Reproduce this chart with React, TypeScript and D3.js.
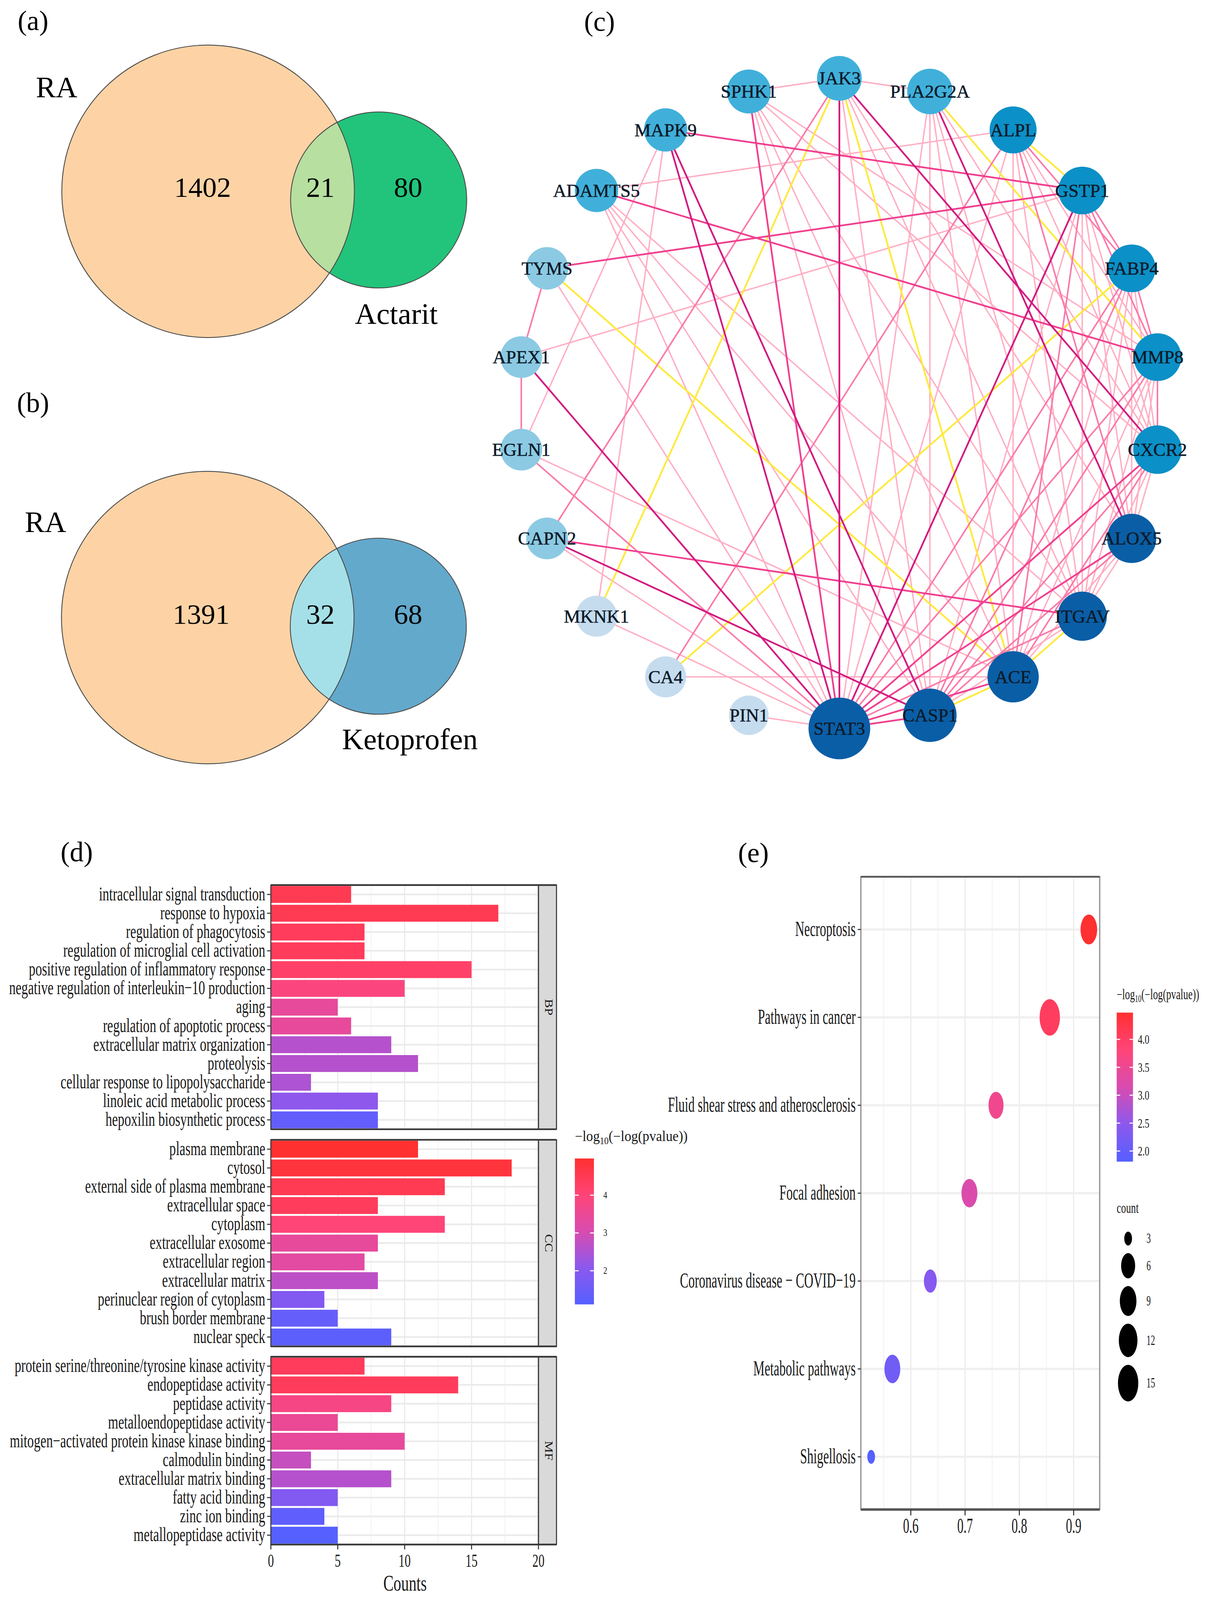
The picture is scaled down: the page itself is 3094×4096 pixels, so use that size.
import React from 'react';
import * as d3 from 'd3';

const REF_W = 3487;
const REF_H = 4617;
const SERIF = '"Liberation Serif", "Times New Roman", Times, serif';

// ---------------- (a)/(b) Venn data ----------------
const vennDrugs = ['Actarit', 'Ketoprofen'];
const vennRAOnly = [1402, 1391];
const vennShared = [21, 32];
const vennDrugOnly = [80, 68];
const vennDrugFill = ['#22c47b', '#63a9cc'];
const vennSharedFill = ['#b7dfa0', '#a5e0e8'];

// ---------------- (c) PPI network data ----------------
const geneNames = ['JAK3', 'PLA2G2A', 'ALPL', 'GSTP1', 'FABP4', 'MMP8', 'CXCR2', 'ALOX5', 'ITGAV', 'ACE', 'CASP1',
  'STAT3', 'PIN1', 'CA4', 'MKNK1', 'CAPN2', 'EGLN1', 'APEX1', 'TYMS', 'ADAMTS5', 'MAPK9', 'SPHK1'];
const geneDegree = [8, 9, 11, 12, 12, 12, 13, 14, 14, 15, 16, 20, 1, 3, 3, 4, 4, 4, 5, 6, 6, 7];
// edge strength class: L light, M medium, S strong, D dark, Y yellow
const ppiEdges: [string, string, string][] = [
  ['SPHK1', 'JAK3', 'L'], ['JAK3', 'PLA2G2A', 'L'], ['ALPL', 'GSTP1', 'Y'], ['GSTP1', 'FABP4', 'M'],
  ['FABP4', 'MMP8', 'M'], ['MMP8', 'CXCR2', 'M'], ['CXCR2', 'ALOX5', 'L'], ['ALOX5', 'ITGAV', 'L'],
  ['ITGAV', 'ACE', 'Y'], ['ACE', 'CASP1', 'Y'], ['CASP1', 'STAT3', 'S'], ['STAT3', 'PIN1', 'L'],
  ['TYMS', 'APEX1', 'M'], ['APEX1', 'EGLN1', 'M'],
  ['JAK3', 'STAT3', 'D'], ['JAK3', 'CXCR2', 'D'], ['JAK3', 'MKNK1', 'Y'], ['JAK3', 'ACE', 'Y'],
  ['JAK3', 'CAPN2', 'M'], ['JAK3', 'CASP1', 'L'], ['JAK3', 'ITGAV', 'L'], ['JAK3', 'ALOX5', 'L'],
  ['PLA2G2A', 'ALOX5', 'D'], ['PLA2G2A', 'MMP8', 'Y'], ['PLA2G2A', 'STAT3', 'L'], ['PLA2G2A', 'CASP1', 'L'],
  ['PLA2G2A', 'ACE', 'L'], ['PLA2G2A', 'ITGAV', 'L'], ['PLA2G2A', 'CXCR2', 'L'],
  ['ALPL', 'CA4', 'M'], ['ALPL', 'ADAMTS5', 'L'], ['ALPL', 'FABP4', 'M'], ['ALPL', 'MMP8', 'L'],
  ['ALPL', 'CXCR2', 'L'], ['ALPL', 'ALOX5', 'M'], ['ALPL', 'ITGAV', 'L'], ['ALPL', 'ACE', 'L'], ['ALPL', 'STAT3', 'L'],
  ['GSTP1', 'TYMS', 'S'], ['GSTP1', 'MAPK9', 'S'], ['GSTP1', 'APEX1', 'L'], ['GSTP1', 'STAT3', 'D'],
  ['GSTP1', 'CASP1', 'L'], ['GSTP1', 'ACE', 'M'], ['GSTP1', 'ITGAV', 'L'], ['GSTP1', 'ALOX5', 'L'],
  ['GSTP1', 'CXCR2', 'L'], ['GSTP1', 'MMP8', 'M'],
  ['FABP4', 'CA4', 'Y'], ['FABP4', 'STAT3', 'M'], ['FABP4', 'CASP1', 'M'], ['FABP4', 'ACE', 'L'],
  ['FABP4', 'ITGAV', 'L'], ['FABP4', 'ALOX5', 'L'], ['FABP4', 'CXCR2', 'L'],
  ['MMP8', 'ADAMTS5', 'S'], ['MMP8', 'STAT3', 'M'], ['MMP8', 'CASP1', 'M'], ['MMP8', 'ACE', 'L'],
  ['MMP8', 'ITGAV', 'L'], ['MMP8', 'ALOX5', 'L'],
  ['CXCR2', 'STAT3', 'S'], ['CXCR2', 'CASP1', 'M'], ['CXCR2', 'ACE', 'M'], ['CXCR2', 'ITGAV', 'L'],
  ['ALOX5', 'STAT3', 'S'], ['ALOX5', 'CASP1', 'M'], ['ALOX5', 'ACE', 'L'],
  ['ITGAV', 'CAPN2', 'S'], ['ITGAV', 'STAT3', 'M'], ['ITGAV', 'CASP1', 'L'],
  ['ACE', 'TYMS', 'Y'], ['ACE', 'CA4', 'L'], ['ACE', 'STAT3', 'S'], ['ACE', 'EGLN1', 'L'],
  ['CASP1', 'MAPK9', 'D'], ['CASP1', 'CAPN2', 'D'], ['CASP1', 'ADAMTS5', 'L'], ['CASP1', 'SPHK1', 'L'],
  ['STAT3', 'MAPK9', 'D'], ['STAT3', 'APEX1', 'D'], ['STAT3', 'SPHK1', 'S'], ['STAT3', 'TYMS', 'L'],
  ['STAT3', 'MKNK1', 'L'], ['STAT3', 'EGLN1', 'M'], ['STAT3', 'CAPN2', 'L'],
  ['SPHK1', 'ACE', 'L'], ['SPHK1', 'ITGAV', 'L'], ['SPHK1', 'CXCR2', 'L'], ['SPHK1', 'MMP8', 'L'],
  ['MAPK9', 'MKNK1', 'L'], ['MAPK9', 'EGLN1', 'L'],
  ['ADAMTS5', 'STAT3', 'L'], ['ADAMTS5', 'ACE', 'L'], ['ADAMTS5', 'ITGAV', 'L'],
];

// ---------------- (d) GO enrichment data ----------------
const bpTerms = ['intracellular signal transduction', 'response to hypoxia', 'regulation of phagocytosis',
  'regulation of microglial cell activation', 'positive regulation of inflammatory response',
  'negative regulation of interleukin\u221210 production', 'aging', 'regulation of apoptotic process',
  'extracellular matrix organization', 'proteolysis', 'cellular response to lipopolysaccharide',
  'linoleic acid metabolic process', 'hepoxilin biosynthetic process'];
const bpCounts = [6, 17, 7, 7, 15, 10, 5, 6, 9, 11, 3, 8, 8];
const bpScore = [4.5, 4.5, 4.4, 4.4, 4.2, 3.9, 3.4, 3.4, 2.6, 2.6, 2.5, 2.1, 1.35];

const ccTerms = ['plasma membrane', 'cytosol', 'external side of plasma membrane', 'extracellular space',
  'cytoplasm', 'extracellular exosome', 'extracellular region', 'extracellular matrix',
  'perinuclear region of cytoplasm', 'brush border membrane', 'nuclear speck'];
const ccCounts = [11, 18, 13, 8, 13, 8, 7, 8, 4, 5, 9];
const ccScore = [4.97, 4.8, 4.5, 4.4, 4.0, 3.4, 3.3, 2.7, 1.9, 1.4, 1.25];

const mfTerms = ['protein serine/threonine/tyrosine kinase activity', 'endopeptidase activity', 'peptidase activity',
  'metalloendopeptidase activity', 'mitogen\u2212activated protein kinase kinase binding', 'calmodulin binding',
  'extracellular matrix binding', 'fatty acid binding', 'zinc ion binding', 'metallopeptidase activity'];
const mfCounts = [7, 14, 9, 5, 10, 3, 9, 5, 4, 5];
const mfScore = [4.4, 4.4, 3.8, 3.5, 3.4, 2.8, 2.6, 1.9, 1.3, 1.11];

const countTicks = [0, 5, 10, 15, 20];
const goLegendTicks = [2, 3, 4];

// ---------------- (e) KEGG data ----------------
const keggTerms = ['Necroptosis', 'Pathways in cancer', 'Fluid shear stress and atherosclerosis', 'Focal adhesion',
  'Coronavirus disease \u2212 COVID\u221219', 'Metabolic pathways', 'Shigellosis'];
const keggRatio = [0.928, 0.856, 0.757, 0.708, 0.636, 0.566, 0.527];
const keggCount = [9, 15, 7, 8, 5, 8, 3];
const keggScore = [4.48, 4.05, 3.55, 3.2, 2.4, 2.15, 1.81];
const ratioTicks = [0.6, 0.7, 0.8, 0.9];
const keggLegendTicks = [2.0, 2.5, 3.0, 3.5, 4.0];
const sizeLegendCounts = [3, 6, 9, 12, 15];

// gradient palette (low -> high)
const gradientStops = ['#5560ff', '#8c58ee', '#d84cb0', '#ff4478', '#ff3030'];

type TP = { x: number; y: number; size: number; sx?: number; anchor?: string; fill?: string; rotate?: number; children: any };
function T({ x, y, size, sx = 1, anchor = 'start', fill = '#1a1a1a', rotate = 0, children }: TP) {
  return (
    <text transform={`translate(${x},${y}) rotate(${rotate}) scale(${sx},1)`} fontSize={size} textAnchor={anchor as any}
      fill={fill} fontFamily={SERIF}>
      {children}
    </text>
  );
}

function LogTitle({ x, y, size, sx }: { x: number; y: number; size: number; sx: number }) {
  return (
    <text transform={`translate(${x},${y}) scale(${sx},1)`} fontSize={size} fontFamily={SERIF} fill="#1a1a1a">
      {'\u2212log'}<tspan fontSize={size * 0.65} dy={size * 0.2}>10</tspan><tspan dy={-size * 0.2}>{'(\u2212log(pvalue))'}</tspan>
    </text>
  );
}

function Venn({ k }: { k: number }) {
  const oy = k * 1230;
  const ra = { cx: 600 - k, cy: 552 + oy, r: 422 };
  const dr = { cx: 1092 - k, cy: 577 + oy, r: 254 };
  const id = `clipRA${k}`;
  const raLabelX = [163, 131];
  const raLabelY = [252, 1506];
  const drugLabelX = [1143, 1182];
  const drugLabelY = [905, 2133];
  const numY = [540, 1772];
  return (
    <g>
      <defs>
        <clipPath id={id}><circle cx={ra.cx} cy={ra.cy} r={ra.r} /></clipPath>
      </defs>
      <circle cx={ra.cx} cy={ra.cy} r={ra.r} fill="#fdd3a5" />
      <circle cx={dr.cx} cy={dr.cy} r={dr.r} fill={vennDrugFill[k]} />
      <circle cx={dr.cx} cy={dr.cy} r={dr.r} fill={vennSharedFill[k]} clipPath={`url(#${id})`} />
      <circle cx={ra.cx} cy={ra.cy} r={ra.r} fill="none" stroke="#4a4a4a" strokeWidth={2.5} />
      <circle cx={dr.cx} cy={dr.cy} r={dr.r} fill="none" stroke="#4a4a4a" strokeWidth={2.5} />
      <T x={raLabelX[k]} y={raLabelY[k] + 29} size={86} anchor="middle" fill="#000">RA</T>
      <T x={584 - k * 4} y={numY[k] + 28} size={82} anchor="middle" fill="#000">{vennRAOnly[k]}</T>
      <T x={924} y={numY[k] + 28} size={82} anchor="middle" fill="#000">{vennShared[k]}</T>
      <T x={1177} y={numY[k] + 28} size={82} anchor="middle" fill="#000">{vennDrugOnly[k]}</T>
      <T x={drugLabelX[k]} y={drugLabelY[k] + 29} size={86} anchor="middle" fill="#000">{vennDrugs[k]}</T>
    </g>
  );
}

function Network() {
  const cx = 2421, cy = 1164, rx = 927, ry = 938;
  const n = geneNames.length;
  const angle = d3.scaleLinear().domain([0, n]).range([0, 2 * Math.PI]);
  const pos = new Map<string, [number, number]>(
    geneNames.map((g, i) => [g, [cx + rx * Math.sin(angle(i)), cy - ry * Math.cos(angle(i))]])
  );
  const color = d3.scaleThreshold<number, string>().domain([4, 6, 10, 14])
    .range(['#c5dcef', '#8ccae3', '#40b0da', '#0b90c7', '#0a5ea6']);
  const radius = d3.scaleLinear().domain([1, 14, 20]).range([57, 71, 89]);
  const edgeColor: Record<string, string> = { L: '#ffaec3', Y: '#ffe93b', M: '#fb7aa9', S: '#f0408f', D: '#d31a80' };
  const edgeWidth: Record<string, number> = { L: 4, Y: 5, M: 4.5, S: 5, D: 5 };
  const order: Record<string, number> = { L: 0, Y: 1, M: 2, S: 3, D: 4 };
  const edges = [...ppiEdges].sort((a, b) => order[a[2]] - order[b[2]]);
  const line = d3.line();
  return (
    <g>
      {edges.map(([a, b, t], i) => (
        <path key={i} d={line([pos.get(a)!, pos.get(b)!]) || ''} stroke={edgeColor[t]} strokeWidth={edgeWidth[t]}
          fill="none" />
      ))}
      {geneNames.map((g, i) => {
        const [x, y] = pos.get(g)!;
        return <circle key={g} cx={x} cy={y} r={radius(geneDegree[i])} fill={color(geneDegree[i])} />;
      })}
      {geneNames.map((g) => {
        const [x, y] = pos.get(g)!;
        return (
          <text key={g} x={x} y={y + 18} fontSize={53} textAnchor="middle" fill="#0d1b2a" fontFamily={SERIF}
            stroke="#0d1b2a" strokeWidth={0.8}>{g}</text>
        );
      })}
    </g>
  );
}

function colorScale(lo: number, hi: number) {
  const t = d3.scaleLinear().domain([lo, hi]).range([0, 1]).clamp(true);
  const pal = d3.scaleLinear<string>().domain(d3.range(gradientStops.length).map((i) => i / (gradientStops.length - 1)))
    .range(gradientStops).interpolate(d3.interpolateRgb);
  return (v: number) => pal(t(v));
}

function GoBars() {
  const x = d3.scaleLinear().domain([0, 20]).range([781, 1553]);
  const col = colorScale(1.11, 4.97);
  const rowH = 54.2;
  const facets = [
    { terms: bpTerms, counts: bpCounts, scores: bpScore, label: 'BP', top: 2554 },
    { terms: ccTerms, counts: ccCounts, scores: ccScore, label: 'CC', top: 3289 },
    { terms: mfTerms, counts: mfCounts, scores: mfScore, label: 'MF', top: 3915 },
  ];
  const majors = countTicks;
  const minors = d3.range(2.5, 20, 5);
  const sxLab = 0.665;
  const stripR = 1605;
  const lgTop = 3343, lgBot = 3764, lgL = 1658, lgR = 1713;
  const lgY = d3.scaleLinear().domain([1.11, 4.97]).range([lgBot, lgTop]);
  const stops = d3.range(0, 1.0001, 0.05);
  let lastBottom = 0;
  return (
    <g>
      <T x={221} y={2486} size={80} anchor="middle" fill="#000">(d)</T>
      {facets.map((f) => {
        const y = d3.scaleBand().domain(f.terms).range([f.top, f.top + f.terms.length * rowH]).paddingInner(0.1).paddingOuter(0.05);
        const bottom = f.top + f.terms.length * rowH;
        lastBottom = bottom;
        return (
          <g key={f.label}>
            <rect x={781} y={f.top} width={1553 - 781} height={bottom - f.top} fill="#fff" />
            {minors.map((v) => <line key={'mi' + v} x1={x(v)} x2={x(v)} y1={f.top} y2={bottom} stroke="#f2f2f2" strokeWidth={2.5} />)}
            {majors.map((v) => <line key={'ma' + v} x1={x(v)} x2={x(v)} y1={f.top} y2={bottom} stroke="#ebebeb" strokeWidth={3.5} />)}
            {f.terms.map((t) => <line key={'h' + t} x1={781} x2={1553} y1={y(t)! + y.bandwidth() / 2} y2={y(t)! + y.bandwidth() / 2} stroke="#ebebeb" strokeWidth={5} />)}
            {f.terms.map((t, i) => (
              <rect key={'b' + t} x={x(0)} y={y(t)} width={x(f.counts[i]) - x(0)} height={y.bandwidth()} fill={col(f.scores[i])} />
            ))}
            {f.terms.map((t) => <line key={'tk' + t} x1={770} x2={781} y1={y(t)! + y.bandwidth() / 2} y2={y(t)! + y.bandwidth() / 2} stroke="#333" strokeWidth={3} />)}
            {f.terms.map((t) => (
              <T key={'l' + t} x={765} y={y(t)! + y.bandwidth() / 2 + 17} size={57} sx={sxLab} anchor="end" fill="#1a1a1a">{t}</T>
            ))}
            <rect x={1553} y={f.top} width={stripR - 1553} height={bottom - f.top} fill="#d9d9d9" stroke="#333" strokeWidth={3} />
            <T x={1572} y={(f.top + bottom) / 2} size={34} sx={1.15} anchor="middle" rotate={90} fill="#1a1a1a">{f.label}</T>
            <rect x={781} y={f.top} width={1553 - 781} height={bottom - f.top} fill="none" stroke="#3a3a3a" strokeWidth={3} />
            <line x1={781} x2={stripR} y1={f.top} y2={f.top} stroke="#3a3a3a" strokeWidth={5} />
            <line x1={781} x2={stripR} y1={bottom} y2={bottom} stroke="#3a3a3a" strokeWidth={5} />
          </g>
        );
      })}
      {countTicks.map((v) => (
        <g key={'xt' + v}>
          <line x1={x(v)} x2={x(v)} y1={lastBottom} y2={lastBottom + 14} stroke="#333" strokeWidth={3} />
          <T x={x(v)} y={4521} size={52} sx={0.67} anchor="middle">{v}</T>
        </g>
      ))}
      <T x={1168} y={4590} size={65} sx={0.68} anchor="middle">Counts</T>
      <defs>
        <linearGradient id="goGrad" x1="0" y1="1" x2="0" y2="0">
          {stops.map((s) => <stop key={s} offset={s} stopColor={col(1.11 + s * (4.97 - 1.11))} />)}
        </linearGradient>
      </defs>
      <LogTitle x={lgL} y={3293} size={42} sx={0.93} />
      <rect x={lgL} y={lgTop} width={lgR - lgL} height={lgBot - lgTop} fill="url(#goGrad)" />
      {goLegendTicks.map((v) => (
        <g key={'gl' + v}>
          <line x1={lgL} x2={lgL + 11} y1={lgY(v)} y2={lgY(v)} stroke="#fff" strokeWidth={3} />
          <line x1={lgR - 11} x2={lgR} y1={lgY(v)} y2={lgY(v)} stroke="#fff" strokeWidth={3} />
          <T x={1740} y={lgY(v) + 9} size={28} sx={0.8}>{v}</T>
        </g>
      ))}
    </g>
  );
}

function KeggDots() {
  const L = 2483, R = 3172, top = 2530, bot = 4356;
  const x = d3.scaleLinear().domain([0.508, 0.948]).range([L, R]);
  const y = d3.scalePoint().domain(keggTerms).range([top, bot]).padding(0.6);
  const col = colorScale(1.81, 4.48);
  const t = d3.scaleLinear().domain([3, 15]).range([0, 1]).clamp(true);
  const rxOf = (c: number) => (22.3 + 36.4 * Math.sqrt(t(c))) / 2;
  const stretch = 1.8;
  const majors = ratioTicks;
  const minors = d3.range(0.55, 0.95, 0.1);
  const lgTop = 2922, lgBot = 3352, lgL = 3221, lgR = 3268;
  const lgY = d3.scaleLinear().domain([1.81, 4.48]).range([lgBot, lgTop]);
  const stops = d3.range(0, 1.0001, 0.05);
  const keyH = sizeLegendCounts.map((c) => rxOf(c) * 2 * stretch + 22);
  const keyY: number[] = [];
  let acc = 3574 - keyH[0] / 2;
  keyH.forEach((h) => { keyY.push(acc + h / 2); acc += h; });
  return (
    <g>
      <T x={2173} y={2488} size={80} anchor="middle" fill="#000">(e)</T>
      <rect x={L} y={top} width={R - L} height={bot - top} fill="#fff" />
      {minors.map((v) => <line key={'mi' + v} x1={x(v)} x2={x(v)} y1={top} y2={bot} stroke="#f4f4f4" strokeWidth={3} />)}
      {majors.map((v) => <line key={'ma' + v} x1={x(v)} x2={x(v)} y1={top} y2={bot} stroke="#ececec" strokeWidth={3.5} />)}
      {keggTerms.map((k) => <line key={'h' + k} x1={L} x2={R} y1={y(k)} y2={y(k)} stroke="#efefef" strokeWidth={6} />)}
      {keggTerms.map((k, i) => (
        <ellipse key={'p' + k} cx={x(keggRatio[i])} cy={y(k)} rx={rxOf(keggCount[i])} ry={rxOf(keggCount[i]) * stretch} fill={col(keggScore[i])} />
      ))}
      <rect x={L} y={top} width={R - L} height={bot - top} fill="none" stroke="#9a9a9a" strokeWidth={4} />
      <line x1={L} x2={R} y1={top} y2={top} stroke="#555" strokeWidth={5} />
      <line x1={L} x2={R} y1={bot} y2={bot} stroke="#555" strokeWidth={7} />
      {keggTerms.map((k) => (
        <g key={'yl' + k}>
          <line x1={2474} x2={L} y1={y(k)} y2={y(k)} stroke="#333" strokeWidth={3} />
          <T x={2468} y={y(k)! + 19} size={63} sx={0.58} anchor="end">{k}</T>
        </g>
      ))}
      {ratioTicks.map((v) => (
        <g key={'xt' + v}>
          <line x1={x(v)} x2={x(v)} y1={bot} y2={bot + 17} stroke="#333" strokeWidth={3} />
          <T x={x(v)} y={4423} size={62} sx={0.58} anchor="middle">{v.toFixed(1)}</T>
        </g>
      ))}
      <defs>
        <linearGradient id="keggGrad" x1="0" y1="1" x2="0" y2="0">
          {stops.map((s) => <stop key={s} offset={s} stopColor={col(1.81 + s * (4.48 - 1.81))} />)}
        </linearGradient>
      </defs>
      <LogTitle x={lgL} y={2883} size={42} sx={0.68} />
      <rect x={lgL} y={lgTop} width={lgR - lgL} height={lgBot - lgTop} fill="url(#keggGrad)" />
      {keggLegendTicks.map((v) => (
        <g key={'kl' + v}>
          <line x1={lgL} x2={lgL + 10} y1={lgY(v)} y2={lgY(v)} stroke="#fff" strokeWidth={3} />
          <line x1={lgR - 10} x2={lgR} y1={lgY(v)} y2={lgY(v)} stroke="#fff" strokeWidth={3} />
          <T x={3282} y={lgY(v) + 13} size={38} sx={0.7}>{v.toFixed(1)}</T>
        </g>
      ))}
      <T x={3221} y={3500} size={42} sx={0.68}>count</T>
      {sizeLegendCounts.map((c, i) => (
        <g key={'sl' + c}>
          <ellipse cx={3254} cy={keyY[i]} rx={rxOf(c)} ry={rxOf(c) * stretch} fill="#000" />
          <T x={3307} y={keyY[i] + 13} size={40} sx={0.62}>{c}</T>
        </g>
      ))}
    </g>
  );
}

export default function App() {
  return (
    <svg width={3094} height={4096} viewBox={`0 0 ${REF_W} ${REF_H}`} xmlns="http://www.w3.org/2000/svg"
      style={{ position: 'absolute', left: 0, top: 0, background: '#fff' }}>
      <rect width={REF_W} height={REF_H} fill="#fff" />
      <T x={95} y={87} size={80} anchor="middle" fill="#000">(a)</T>
      <T x={95} y={1189} size={80} anchor="middle" fill="#000">(b)</T>
      <T x={1729} y={89} size={80} anchor="middle" fill="#000">(c)</T>
      <Venn k={0} />
      <Venn k={1} />
      <Network />
      <GoBars />
      <KeggDots />
    </svg>
  );
}
